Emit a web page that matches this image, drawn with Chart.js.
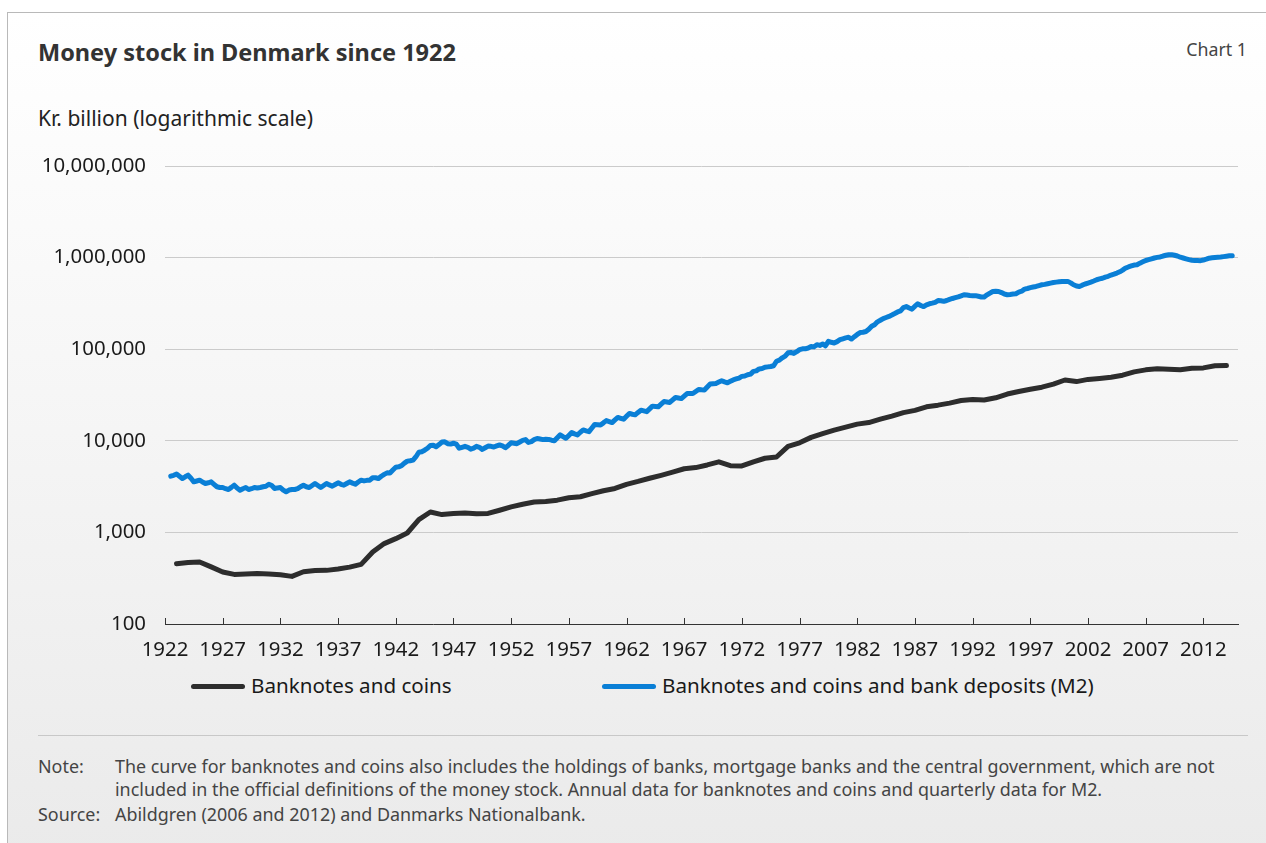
<!DOCTYPE html>
<html>
<head>
<meta charset="utf-8">
<script src="https://cdn.jsdelivr.net/npm/chart.js@4.4.1/dist/chart.umd.min.js"></script>
<style>
  html, body { margin: 0; padding: 0; }
  body { width: 1266px; height: 843px; overflow: hidden; position: relative; background: #fff;
         font-family: "Noto Sans", sans-serif; }
  #frame { position: absolute; left: 7px; top: 12px; width: 1280px; height: 850px;
           border-top: 1px solid #b9b9b9; border-left: 1px solid #b9b9b9;
           background: linear-gradient(to bottom, #ffffff 0%, #f7f7f7 40%, #eaeaea 100%); }
  .abs { position: absolute; white-space: nowrap; }
  #title { left: 38px; top: 36px; font-size: 23.5px; font-weight: bold; color: #333; }
  #chartno { right: 19px; top: 37px; font-size: 17.8px; color: #444; }
  #unit { left: 38px; top: 104px; font-size: 21px; color: #222; }
  #wrap { position: absolute; left: 0; top: 130px; width: 1266px; height: 540px; }
  .leg { top: 671px; font-size: 20.6px; color: #1a1a1a; }
  .sw { display: inline-block; width: 54px; height: 5px; border-radius: 3px; vertical-align: middle;
        margin-right: 6px; position: relative; top: -1px; }
  #rule { position: absolute; left: 38px; top: 735px; width: 1210px; height: 0; border-top: 1px solid #c8c8c8; }
  .note { font-size: 17.9px; color: #444; }
</style>
</head>
<body>
<div id="frame"></div>
<div id="title" class="abs">Money stock in Denmark since 1922</div>
<div id="chartno" class="abs">Chart 1</div>
<div id="unit" class="abs">Kr. billion (logarithmic scale)</div>
<div id="wrap"><canvas id="chart" width="1266" height="540"></canvas></div>
<div class="abs leg" style="left:191px"><span class="sw" style="background:#2d2d2d"></span>Banknotes and coins</div>
<div class="abs leg" style="left:602px"><span class="sw" style="background:#0a7fd6"></span>Banknotes and coins and bank deposits (M2)</div>
<div id="rule"></div>
<div class="abs note" style="left:38px;top:754px">Note:</div>
<div class="abs note" style="left:115px;top:754px">The curve for banknotes and coins also includes the holdings of banks, mortgage banks and the central government, which are not</div>
<div class="abs note" style="left:115px;top:777px">included in the official definitions of the money stock. Annual data for banknotes and coins and quarterly data for M2.</div>
<div class="abs note" style="left:38px;top:802px">Source:</div>
<div class="abs note" style="left:115px;top:802px">Abildgren (2006 and 2012) and Danmarks Nationalbank.</div>

<script>
// Kr. million
var xTickYears = [1922, 1927, 1932, 1937, 1942, 1947, 1952, 1957, 1962, 1967, 1972, 1977, 1982, 1987, 1992, 1997, 2002, 2007, 2012];
var yTickValues = [100, 1000, 10000, 100000, 1000000, 10000000];

// banknotes and coins, annual 1922-2013 (plotted at year end)
var notesFirstYear = 1922;
var notesCoins = [
  455, 470, 476, 420, 370, 348, 351, 355, 352, 345,
  331, 372, 383, 385, 398, 418, 448, 610, 755, 855,
  985, 1380, 1670, 1565, 1605, 1630, 1600, 1610, 1745, 1900,
  2030, 2150, 2180, 2250, 2390, 2450, 2650, 2850, 3020, 3350,
  3600, 3900, 4200, 4550, 4950, 5100, 5450, 5890, 5350, 5320,
  5900, 6450, 6650, 8700, 9500, 10900, 12000, 13100, 14100, 15200,
  15800, 17200, 18600, 20300, 21500, 23500, 24500, 25800, 27500, 28200,
  27900, 29500, 32400, 34500, 36500, 38500, 41500, 46100, 44300, 46800,
  48000, 49500, 52000, 56500, 59500, 61000, 60500, 59800, 62000, 62500,
  66000, 66200
];

// M2, quarterly, one row per year from 1922 (Q1..Q4)
var m2FirstYear = 1922;
var m2Quarterly = [
  [null, 4110, 4200, 4330],
  [4100, 3873, 4050, 4217],
  [3900, 3565, 3640, 3715],
  [3550, 3420, 3480, 3565],
  [3350, 3150, 3090, 3090],
  [3000, 2940, 3100, 3280],
  [3050, 2890, 3000, 3090],
  [2940, 3000, 3090, 3050],
  [3090, 3150, 3195, 3360],
  [3250, 3015, 3060, 3090],
  [2900, 2780, 2900, 2940],
  [2938, 3000, 3150, 3275],
  [3150, 3090, 3250, 3420],
  [3250, 3090, 3250, 3420],
  [3300, 3195, 3330, 3475],
  [3350, 3275, 3420, 3565],
  [3450, 3360, 3550, 3720],
  [3650, 3700, 3715, 3950],
  [3950, 3870, 4100, 4300],
  [4470, 4450, 4800, 5150],
  [5200, 5350, 5700, 6000],
  [6050, 6150, 6700, 7500],
  [7600, 7900, 8300, 8900],
  [8950, 8600, 9100, 9700],
  [9750, 9300, 9200, 9400],
  [9200, 8300, 8500, 8700],
  [8500, 8100, 8300, 8700],
  [8500, 8050, 8400, 8750],
  [8700, 8550, 8800, 9000],
  [8800, 8400, 8900, 9500],
  [9400, 9300, 9700, 10100],
  [10300, 9600, 9800, 10300],
  [10600, 10450, 10300, 10400],
  [10350, 10150, 10000, 10800],
  [11600, 11100, 10650, 11450],
  [12300, 11900, 11600, 12400],
  [13150, 12850, 12600, 13800],
  [15100, 15000, 14900, 15700],
  [16600, 16200, 15800, 16900],
  [18000, 17600, 17200, 18500],
  [19900, 19500, 19200, 20400],
  [21600, 21200, 20800, 22300],
  [23900, 23700, 23500, 25100],
  [26800, 26500, 26200, 27900],
  [29700, 29300, 28900, 30800],
  [32800, 32800, 32800, 34500],
  [36300, 36000, 35800, 38700],
  [41600, 42000, 42300, 43800],
  [45300, 44000, 43000, 44600],
  [46200, 47300, 48400, 50500],
  [51000, 52600, 53500, 57300],
  [58000, 60900, 61500, 63500],
  [64100, 64800, 66000, 73900],
  [76000, 80500, 84000, 91300],
  [92000, 90000, 94000, 99000],
  [101000, 101000, 103000, 107000],
  [106000, 112000, 110000, 114000],
  [109000, 122000, 119000, 117000],
  [121000, 127000, 130000, 133000],
  [135000, 129000, 137000, 145000],
  [152000, 153000, 156000, 165000],
  [178000, 185000, 199000, 207000],
  [216000, 222000, 228000, 236000],
  [245000, 255000, 262000, 285000],
  [292000, 282000, 274000, 295000],
  [313000, 300000, 292000, 305000],
  [313000, 318000, 325000, 340000],
  [338000, 333000, 340000, 350000],
  [358000, 365000, 372000, 382000],
  [393000, 390000, 385000, 384000],
  [384000, 378000, 372000, 371000],
  [392000, 410000, 427000, 428000],
  [427000, 415000, 400000, 393000],
  [396000, 400000, 403000, 420000],
  [430000, 453000, 460000, 470000],
  [478000, 484000, 495000, 505000],
  [510000, 518000, 527000, 535000],
  [540000, 545000, 548000, 550000],
  [550000, 530000, 505000, 490000],
  [484000, 500000, 515000, 527000],
  [540000, 555000, 573000, 585000],
  [595000, 613000, 625000, 645000],
  [660000, 678000, 700000, 730000],
  [769000, 790000, 810000, 830000],
  [836000, 870000, 900000, 930000],
  [949000, 970000, 990000, 1005000],
  [1016000, 1040000, 1060000, 1075000],
  [1077000, 1060000, 1040000, 1010000],
  [990000, 970000, 950000, 935000],
  [931000, 928000, 926000, 940000],
  [960000, 985000, 995000, 1005000],
  [1010000, 1016000, 1025000, 1035000],
  [1045000, 1050000, null, null]
];

var notesPoints = notesCoins.map(function (v, i) {
  return { x: notesFirstYear + i + 1, y: v };
});
var m2Points = [];
m2Quarterly.forEach(function (row, i) {
  row.forEach(function (v, q) {
    if (v !== null) m2Points.push({ x: m2FirstYear + i + (q + 1) / 4, y: v });
  });
});

// tick marks pointing up into the plot
var innerTicks = {
  id: 'innerTicks',
  afterDraw: function (chart) {
    var ctx = chart.ctx, x = chart.scales.x, bottom = chart.chartArea.bottom;
    ctx.save();
    ctx.strokeStyle = '#333';
    ctx.lineWidth = 1;
    x.ticks.forEach(function (t) {
      var px = Math.round(x.getPixelForValue(t.value)) + 0.5;
      ctx.beginPath();
      ctx.moveTo(px, bottom);
      ctx.lineTo(px, bottom - 6);
      ctx.stroke();
    });
    ctx.restore();
  }
};

var tickFont = { family: '"Noto Sans", sans-serif', size: 20.4 };

new Chart(document.getElementById('chart'), {
  type: 'line',
  data: {
    datasets: [
      {
        label: 'Banknotes and coins and bank deposits (M2)',
        data: m2Points,
        borderColor: '#0a7fd6',
        borderWidth: 5,
        borderCapStyle: 'round',
        borderJoinStyle: 'round',
        pointRadius: 0,
        tension: 0
      },
      {
        label: 'Banknotes and coins',
        data: notesPoints,
        borderColor: '#2d2d2d',
        borderWidth: 5,
        borderCapStyle: 'round',
        borderJoinStyle: 'round',
        pointRadius: 0,
        tension: 0
      }
    ]
  },
  options: {
    responsive: false,
    animation: false,
    devicePixelRatio: 1,
    layout: { padding: { top: 36, right: 28, left: 0, bottom: 0 } },
    plugins: { legend: { display: false }, tooltip: { enabled: false } },
    scales: {
      x: {
        type: 'linear',
        min: 1922,
        max: 2015,
        afterBuildTicks: function (axis) {
          axis.ticks = xTickYears.map(function (v) { return { value: v }; });
        },
        afterFit: function (axis) { axis.height = 46; },
        grid: { display: true, drawOnChartArea: false, drawTicks: false },
        border: { display: true, color: '#333', width: 1 },
        ticks: {
          autoSkip: false,
          maxRotation: 0,
          padding: 14,
          color: '#1a1a1a',
          font: tickFont,
          callback: function (v) { return String(v); }
        }
      },
      y: {
        type: 'logarithmic',
        min: 100,
        max: 10000000,
        afterBuildTicks: function (axis) {
          axis.ticks = yTickValues.map(function (v) { return { value: v }; });
        },
        afterFit: function (axis) { axis.width = 165; },
        grid: { color: '#cbcbcb', lineWidth: 1, drawTicks: false },
        border: { display: false },
        ticks: {
          padding: 19,
          color: '#1a1a1a',
          font: tickFont,
          callback: function (v) { return Number(v).toLocaleString('en-US'); }
        }
      }
    }
  },
  plugins: [innerTicks]
});
</script>
</body>
</html>
